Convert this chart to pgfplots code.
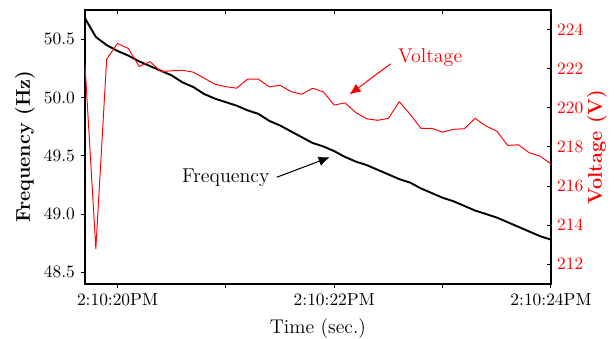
\documentclass[border=0pt]{standalone}
\usepackage{pgfplots}
\pgfplotsset{compat=1.18}
\usepackage{pgfplotstable}
\usetikzlibrary{arrows.meta}

% time in seconds after 2:10:00 PM, grid frequency (Hz), voltage (V)
\pgfplotstableread{
t    f      v
19.7 50.68  222.20
19.8 50.52  212.80
19.9 50.45  222.49
20.0 50.40  223.29
20.1 50.36  223.03
20.2 50.31  222.11
20.3 50.27  222.36
20.4 50.23  221.85
20.5 50.19  221.89
20.6 50.13  221.92
20.7 50.09  221.82
20.8 50.03  221.51
20.9 49.99  221.20
21.0 49.96  221.08
21.1 49.93  221.00
21.2 49.89  221.46
21.3 49.86  221.46
21.4 49.80  221.07
21.5 49.76  221.15
21.6 49.71  220.83
21.7 49.66  220.69
21.8 49.61  221.00
21.9 49.58  220.81
22.0 49.54  220.14
22.1 49.49  220.25
22.2 49.45  219.75
22.3 49.42  219.44
22.4 49.38  219.36
22.5 49.34  219.46
22.6 49.30  220.31
22.7 49.27  219.67
22.8 49.22  218.95
22.9 49.18  218.95
23.0 49.14  218.76
23.1 49.11  218.90
23.2 49.07  218.93
23.3 49.03  219.46
23.4 49.00  219.07
23.5 48.97  218.81
23.6 48.93  218.08
23.7 48.89  218.11
23.8 48.85  217.70
23.9 48.81  217.53
24.0 48.78  217.13
}\datatable

\pgfplotsset{
  common/.style={
    scale only axis,
    width=267.8pt, height=157.5pt,
    xmin=19.7, xmax=24,
    tick label style={font=\fontsize{10}{12}\selectfont},
    label style={font=\fontsize{11.4}{13}\selectfont},
    major tick length=2.3pt,
    axis line style={line width=0.75pt},
    every tick/.style={black, line width=0.6pt},
  }
}

\begin{document}
\begin{tikzpicture}
\begin{axis}[
  common,
  ymin=48.4, ymax=50.752,
  xtick={20,21,22,23,24},
  xticklabels={2:10:20PM,,2:10:22PM,,2:10:24PM},
  ytick={48.5,49.0,49.5,50.0,50.5},
  yticklabel style={/pgf/number format/.cd, fixed, fixed zerofill, precision=1},
  xtick pos=bottom, ytick pos=left,
  tick align=outside,
  xlabel={Time (sec.)},
  ylabel={\bfseries Frequency (Hz)},
  xlabel style={at={(axis description cs:0.5,-0.163)}, anchor=center},
  ylabel style={at={(axis description cs:-0.1288,0.5)}, anchor=center},
]
\addplot[black, line width=1.1pt, line join=round] table[x=t, y=f]{\datatable};

\node[font=\fontsize{11.5}{13}\selectfont] at (axis cs:21.0,49.314) {Frequency};
\draw[-{Latex[length=6.5pt,width=5.5pt]}, line width=0.6pt]
  (axis cs:21.47,49.316) -- (axis cs:21.96,49.488);

\node[red, font=\fontsize{11.5}{13}\selectfont] at (axis cs:22.885,50.343) {Voltage};
\draw[red, -{Latex[length=6.5pt,width=5.5pt]}, line width=0.6pt]
  (axis cs:22.52,50.289) -- (axis cs:22.14,50.026);
\end{axis}

\begin{axis}[
  common,
  ymin=211, ymax=225,
  axis y line*=right,
  axis x line*=top,
  xtick={20,21,22,23,24},
  xticklabels={},
  ytick={212,214,...,224},
  tick align=inside,
  yticklabel style={red},
  ylabel={\bfseries Voltage (V)},
  ylabel style={red, at={(axis description cs:1.0986,0.5)}, anchor=center, rotate=0},
]
\addplot[red, line width=0.55pt, line join=round] table[x=t, y=v]{\datatable};
\end{axis}

\pgfresetboundingbox
\path (-48.85pt,-31.6pt) rectangle (304.6pt,163.2pt);
\end{tikzpicture}
\end{document}
